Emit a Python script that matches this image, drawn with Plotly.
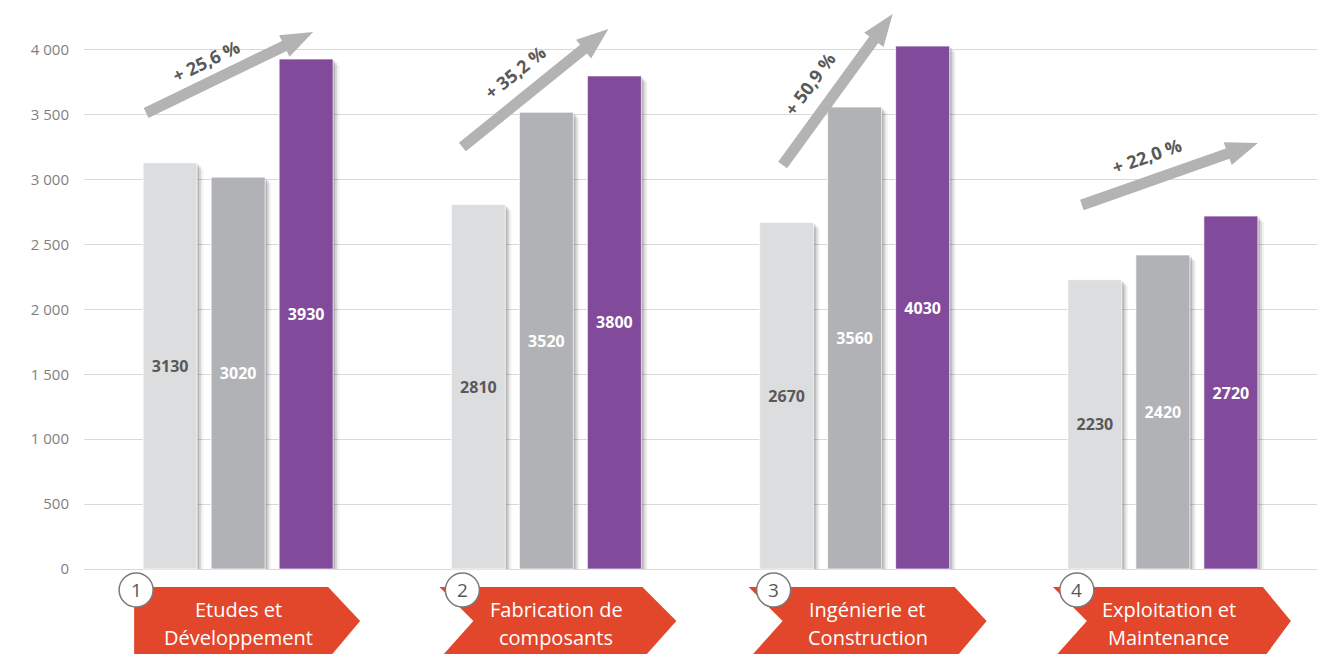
import math
import plotly.graph_objects as go

# ---------------- data ----------------
cat_line1 = ["Etudes et", "Fabrication de", "Ingénierie et", "Exploitation et"]
cat_line2 = ["Développement", "composants", "Construction", "Maintenance"]
step_numbers = ["1", "2", "3", "4"]
series1 = [3130, 2810, 2670, 2230]
series2 = [3020, 3520, 3560, 2420]
series3 = [3930, 3800, 4030, 2720]
growth_labels = ["+ 25,6 %", "+ 35,2 %", "+ 50,9 %", "+ 22,0 %"]
tick_values = [0, 500, 1000, 1500, 2000, 2500, 3000, 3500, 4000]
tick_labels = ["0", "500", "1 000", "1 500", "2 000", "2 500", "3 000", "3 500", "4 000"]

# ---------------- layout constants ----------------
W, H = 1319, 654
ML, MR, MT, MB = 84, 2, 0, 0
Y_RANGE = [-655, 4385]
X_RANGE = [-0.5, 3.5]
PX_X = (W - ML - MR) / (X_RANGE[1] - X_RANGE[0])
PX_Y = (H - MT - MB) / (Y_RANGE[1] - Y_RANGE[0])
BAR_W_PX = 54
BAR_STEP_PX = 68
FONT = "Open Sans"

colors = ["#dcdddf", "#b1b2b5", "#814a9b"]
label_colors = ["#595959", "#ffffff", "#ffffff"]
RED = "#e2472b"
ARROW_GRAY = "#b3b3b3"

xs = list(range(len(cat_line1)))
series = [series1, series2, series3]

fig = go.Figure()

# drop shadows
for k, vals in enumerate(series):
    center = (k - 1) * BAR_STEP_PX
    for shift, alpha in [(6, 0.07), (4, 0.14), (2, 0.22)]:
        fig.add_trace(go.Bar(
            x=xs, y=[v - shift / PX_Y for v in vals],
            width=BAR_W_PX / PX_X,
            offset=(center - BAR_W_PX / 2 + shift) / PX_X,
            marker=dict(color=f"rgba(60,60,60,{alpha})", line=dict(width=0)),
            hoverinfo="skip", showlegend=False,
        ))

# bars
for k, vals in enumerate(series):
    center = (k - 1) * BAR_STEP_PX
    fig.add_trace(go.Bar(
        x=xs, y=vals,
        width=BAR_W_PX / PX_X,
        offset=(center - BAR_W_PX / 2) / PX_X,
        marker=dict(color=colors[k], line=dict(width=1, color="rgba(255,255,255,0.7)")),
        text=[str(v) for v in vals],
        textposition="inside", insidetextanchor="middle",
        textangle=0, constraintext="none",
        textfont=dict(family=FONT, size=16, color=label_colors[k], weight="bold"),
        showlegend=False,
    ))

shapes = []
annotations = []

# chevrons / labels
chev_left = [-104, -107, -106, -110]
chev_corner = [90, 96, 100, 100]
chev_tip = [122, 130, 132, 128]
text_dx = [0, 10, 13, 6]
circle_dx = [-102, -84, -81, -86]
TOP, MID, BOT = -18, -52, -90
for i in xs:
    L, C, T = chev_left[i], chev_corner[i], chev_tip[i]
    if i == 0:
        path = f"M {L},{TOP} L {C},{TOP} L {T},{MID} L {C},{BOT} L {L},{BOT} Z"
    else:
        path = (f"M {L},{TOP} L {C},{TOP} L {T},{MID} L {C},{BOT} L {L},{BOT} "
                f"L {L + 34},{MID} Z")
    shapes.append(dict(type="path", xref="x", yref="y", xsizemode="pixel", ysizemode="pixel",
                       xanchor=i, yanchor=0, path=path, fillcolor=RED, line=dict(width=0),
                       layer="above"))
    annotations.append(dict(x=i, y=0, xref="x", yref="y", text=cat_line1[i], showarrow=False,
                            xshift=text_dx[i], yshift=-40, xanchor="center", yanchor="middle",
                            font=dict(family=FONT, size=20, color="white")))
    annotations.append(dict(x=i, y=0, xref="x", yref="y", text=cat_line2[i], showarrow=False,
                            xshift=text_dx[i], yshift=-68, xanchor="center", yanchor="middle",
                            font=dict(family=FONT, size=20, color="white")))
    cx = circle_dx[i]
    shapes.append(dict(type="circle", xref="x", yref="y", xsizemode="pixel", ysizemode="pixel",
                       xanchor=i, yanchor=0, x0=cx - 17, x1=cx + 17, y0=-38, y1=-4,
                       fillcolor="white", line=dict(color="#7a7a7a", width=1.5), layer="above"))
    annotations.append(dict(x=i, y=0, xref="x", yref="y", text=step_numbers[i], showarrow=False,
                            xshift=cx, yshift=-21, xanchor="center", yanchor="middle",
                            font=dict(family=FONT, size=19, color="#595959")))

# growth arrows (pixel offsets relative to group centre / zero line)
arrow_tail = [(-92, 456), (-84, 422), (-72, 404), (-81, 364)]
arrow_tip = [(75, 537), (62, 540), (38, 555), (95, 426)]
label_pos = [(-32, 508), (-31, 497), (-45, 485), (-16, 413)]
HW, HH, HL = 5.5, 12, 32
for i in xs:
    tx, ty = arrow_tail[i]
    px, py = arrow_tip[i]
    L = math.hypot(px - tx, py - ty)
    ux, uy = (px - tx) / L, (py - ty) / L
    nx, ny = -uy, ux
    bx, by = px - ux * HL, py - uy * HL
    pts = [
        (tx + nx * HW, ty + ny * HW), (bx + nx * HW, by + ny * HW), (bx + nx * HH, by + ny * HH),
        (px, py), (bx - nx * HH, by - ny * HH), (bx - nx * HW, by - ny * HW),
        (tx - nx * HW, ty - ny * HW),
    ]
    path = "M " + " L ".join(f"{a:.1f},{b:.1f}" for a, b in pts) + " Z"
    shapes.append(dict(type="path", xref="x", yref="y", xsizemode="pixel", ysizemode="pixel",
                       xanchor=i, yanchor=0, path=path, fillcolor=ARROW_GRAY,
                       line=dict(width=0), layer="above"))
    ang = math.degrees(math.atan2(py - ty, px - tx))
    lx, ly = label_pos[i]
    annotations.append(dict(x=i, y=0, xref="x", yref="y", text=growth_labels[i], showarrow=False,
                            xshift=lx, yshift=ly, textangle=-ang, xanchor="center", yanchor="middle",
                            font=dict(family=FONT, size=18, color="#595959", weight="bold")))

fig.update_layout(
    width=W, height=H,
    margin=dict(l=ML, r=MR, t=MT, b=MB, pad=0),
    paper_bgcolor="white", plot_bgcolor="white",
    barmode="overlay",
    shapes=shapes, annotations=annotations,
    xaxis=dict(range=X_RANGE, showticklabels=False, showgrid=False, zeroline=False,
               showline=False, fixedrange=True),
    yaxis=dict(range=Y_RANGE, tickvals=tick_values, ticktext=tick_labels,
               showgrid=True, gridcolor="#d9d9d9", gridwidth=1, zeroline=False,
               showline=False, ticks="", ticklabelstandoff=14,
               tickfont=dict(family=FONT, size=15, color="#7f7f7f")),
    font=dict(family=FONT),
)

fig.write_html("out.html")
